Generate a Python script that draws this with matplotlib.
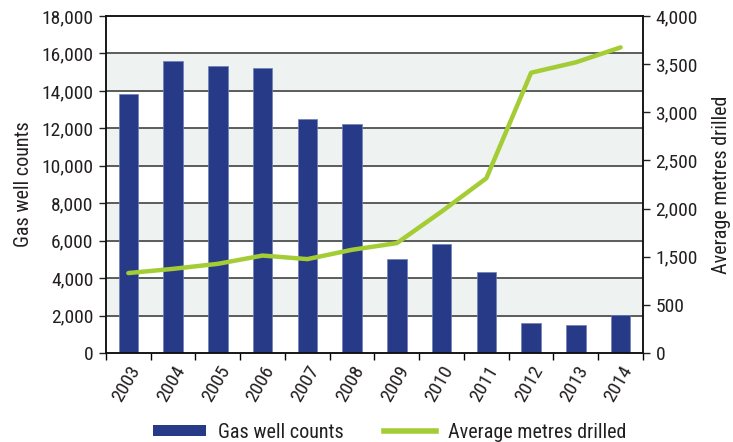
import matplotlib
matplotlib.use("Agg")
import matplotlib.pyplot as plt
from matplotlib.ticker import FixedLocator, FixedFormatter, FuncFormatter
from matplotlib.patches import Patch
from matplotlib.lines import Line2D

# data
years = ['2003', '2004', '2005', '2006', '2007', '2008',
         '2009', '2010', '2011', '2012', '2013', '2014']
gas_wells = [13850, 15600, 15330, 15220, 12500, 12230,
             5020, 5820, 4330, 1600, 1500, 2030]
# average metres drilled, in the units of the right axis as drawn
avg_metres = [830, 874, 926, 1012, 975, 1072,
              1141, 1469, 1815, 2911, 3019, 3174]
right_ticks = [0, 500, 1000, 1500, 2000, 2500, 3000, 3500]
right_labels = ['0', '500', '1,500', '2,000', '2,500', '3,000', '3,500', '4,000']

bar_col = '#273a87'
line_col = '#a4cc35'
band_col = '#eef2f0'
txt_col = '#231f20'

plt.rcParams['font.family'] = ['Liberation Sans Narrow', 'Roboto Condensed', 'Liberation Sans', 'DejaVu Sans']
plt.rcParams['font.size'] = 14

fig = plt.figure(figsize=(7.33, 4.42), dpi=100)
ax = fig.add_axes([0.1446, 0.2014, 0.7326, 0.7624])
x = list(range(len(years)))

# alternating shaded bands
for lo in [2000, 6000, 10000, 14000]:
    ax.axhspan(lo, lo + 2000, color=band_col, zorder=0)
for g in range(2000, 18000, 2000):
    ax.axhline(g, color='#333333', lw=1.1, zorder=1)

ax.bar(x, gas_wells, width=0.44, color=bar_col, edgecolor='#6f7fb8', lw=0.5, zorder=2)
ax.set_xlim(-0.5, len(years) - 0.5)
ax.set_ylim(0, 18000)
ax.set_yticks(range(0, 18001, 2000))
ax.yaxis.set_major_formatter(FuncFormatter(lambda v, p: '{:,.0f}'.format(v)))
ax.set_ylabel('Gas well counts', fontsize=14.5, labelpad=6, color=txt_col)

ax.set_xticks(x)
ax.set_xticklabels(years, rotation=60, ha='right', rotation_mode='anchor')
ax.tick_params(axis='x', length=0, pad=7, labelcolor=txt_col)
ax.set_xticks([i + 0.5 for i in range(-1, len(years))], minor=True)
ax.tick_params(axis='x', which='minor', length=5, width=1, direction='out')
ax.tick_params(axis='y', length=5, width=1, direction='out', colors='#222222', labelcolor=txt_col, pad=4)
for s in ax.spines.values():
    s.set_color('#111111')
    s.set_linewidth(1.1)

ax2 = ax.twinx()
ax2.plot(x, avg_metres, color=line_col, lw=3.2, solid_capstyle='round', zorder=3)
ax2.set_ylim(0, 3500)
ax2.yaxis.set_major_locator(FixedLocator(right_ticks))
ax2.yaxis.set_major_formatter(FixedFormatter(right_labels))
ax2.tick_params(axis='y', length=5, width=1, direction='out', colors='#222222', labelcolor=txt_col, pad=4)
ax2.set_ylabel('Average metres drilled', fontsize=14.5, labelpad=10, color=txt_col)
for s in ax2.spines.values():
    s.set_color('#111111')
    s.set_linewidth(1.1)

handles = [Patch(facecolor=bar_col, edgecolor='none'),
           Line2D([0], [0], color=line_col, lw=4)]
fig.legend(handles, ['Gas well counts', 'Average metres drilled'],
           loc='lower center', bbox_to_anchor=(0.532, -0.04), ncol=2, frameon=False,
           handlelength=2.6, handleheight=0.5, columnspacing=2.0, handletextpad=0.6,
           fontsize=14.5, labelcolor=txt_col)

fig.savefig('out.png', dpi=100)
